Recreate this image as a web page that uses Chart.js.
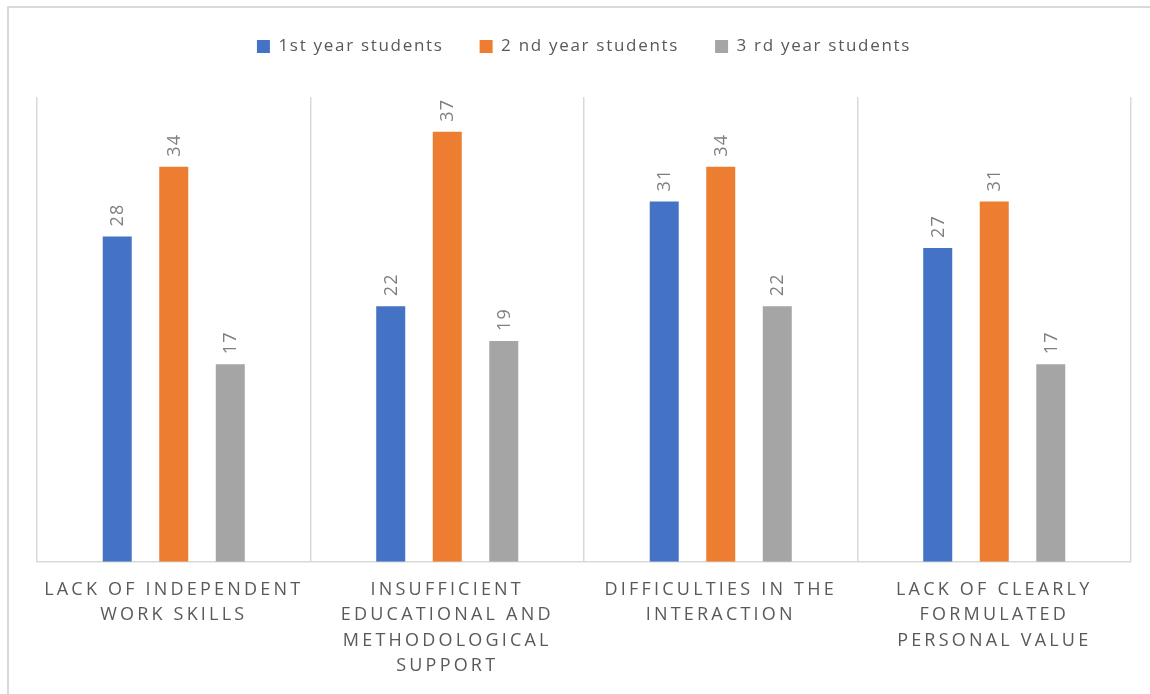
<!DOCTYPE html>
<html>
<head>
<meta charset="utf-8">
<script src="https://cdn.jsdelivr.net/npm/chart.js@4.4.0/dist/chart.umd.min.js"></script>
<style>
  html, body { margin: 0; padding: 0; background: #ffffff; }
  #wrap { position: relative; width: 1150px; height: 694px; overflow: hidden; }
  #frame { position: absolute; left: 7px; top: 6px; width: 1160px; height: 710px; border-top: 2px solid #d9d9d9; border-left: 2px solid #d9d9d9; }
  canvas { position: absolute; left: 0; top: 0; }
</style>
</head>
<body>
<div id="wrap">
  <div id="frame"></div>
  <canvas id="c" width="1150" height="694"></canvas>
</div>
<script>
const categories = [
  ['LACK OF INDEPENDENT', 'WORK SKILLS'],
  ['INSUFFICIENT', 'EDUCATIONAL AND', 'METHODOLOGICAL', 'SUPPORT'],
  ['DIFFICULTIES IN THE', 'INTERACTION'],
  ['LACK OF CLEARLY', 'FORMULATED', 'PERSONAL VALUE']
];
const seriesNames = ['1st year students', '2 nd year students', '3 rd year students'];
const firstYear = [28, 22, 31, 27];
const secondYear = [34, 37, 34, 31];
const thirdYear = [17, 19, 22, 17];
const seriesColors = ['#4472C4', '#ED7D31', '#A5A5A5'];

const spacingPlugin = {
  id: 'spacing',
  beforeLayout(chart) { chart.ctx.letterSpacing = '1.7px'; },
  afterLayout(chart) { chart.ctx.letterSpacing = '0px'; },
  beforeDraw(chart) { chart.ctx.letterSpacing = '1.7px'; },
  beforeDatasetsDraw(chart) { chart.ctx.letterSpacing = '0px'; },
  afterDatasetsDraw(chart) {
    const ctx = chart.ctx;
    ctx.save();
    ctx.letterSpacing = '1.2px';
    ctx.font = '18px "Open Sans"';
    ctx.fillStyle = '#7F7F7F';
    ctx.textAlign = 'left';
    ctx.textBaseline = 'middle';
    chart.data.datasets.forEach((ds, di) => {
      const meta = chart.getDatasetMeta(di);
      meta.data.forEach((bar, i) => {
        ctx.save();
        ctx.translate(bar.x, bar.y - 10);
        ctx.rotate(-Math.PI / 2);
        ctx.fillText(String(ds.data[i]), 0, 1);
        ctx.restore();
      });
    });
    ctx.restore();
    ctx.letterSpacing = '3.2px';
  },
  afterDraw(chart) { chart.ctx.letterSpacing = '0px'; }
};

new Chart(document.getElementById('c'), {
  type: 'bar',
  data: {
    labels: categories,
    datasets: [
      { label: seriesNames[0], data: firstYear, backgroundColor: seriesColors[0] },
      { label: seriesNames[1], data: secondYear, backgroundColor: seriesColors[1] },
      { label: seriesNames[2], data: thirdYear, backgroundColor: seriesColors[2] }
    ]
  },
  options: {
    responsive: false,
    animation: false,
    events: [],
    layout: { padding: { left: 37, right: 19, top: 2, bottom: 0 } },
    datasets: { bar: { categoryPercentage: 0.62, barPercentage: 0.513 } },
    scales: {
      x: {
        grid: { display: true, offset: true, color: '#D9D9D9', lineWidth: 1.5, drawTicks: false },
        border: { display: true, color: '#D9D9D9', width: 1.5 },
        ticks: {
          z: 1,
          color: '#595959',
          font: { family: '"Open Sans"', size: 18, lineHeight: 1.42 },
          padding: 15,
          maxRotation: 0,
          minRotation: 0,
          autoSkip: false
        }
      },
      y: { display: false, min: 0, max: 40 }
    },
    plugins: {
      legend: {
        position: 'top',
        labels: {
          boxWidth: 13, boxHeight: 13, padding: 36,
          color: '#595959',
          font: { family: '"Open Sans"', size: 17 }
        }
      },
      title: {
        display: true, text: ' ', weight: 500,
        font: { size: 10, lineHeight: 1.2 },
        padding: { top: 0, bottom: 20 }
      },
      tooltip: { enabled: false }
    }
  },
  plugins: [spacingPlugin]
});
</script>
</body>
</html>
